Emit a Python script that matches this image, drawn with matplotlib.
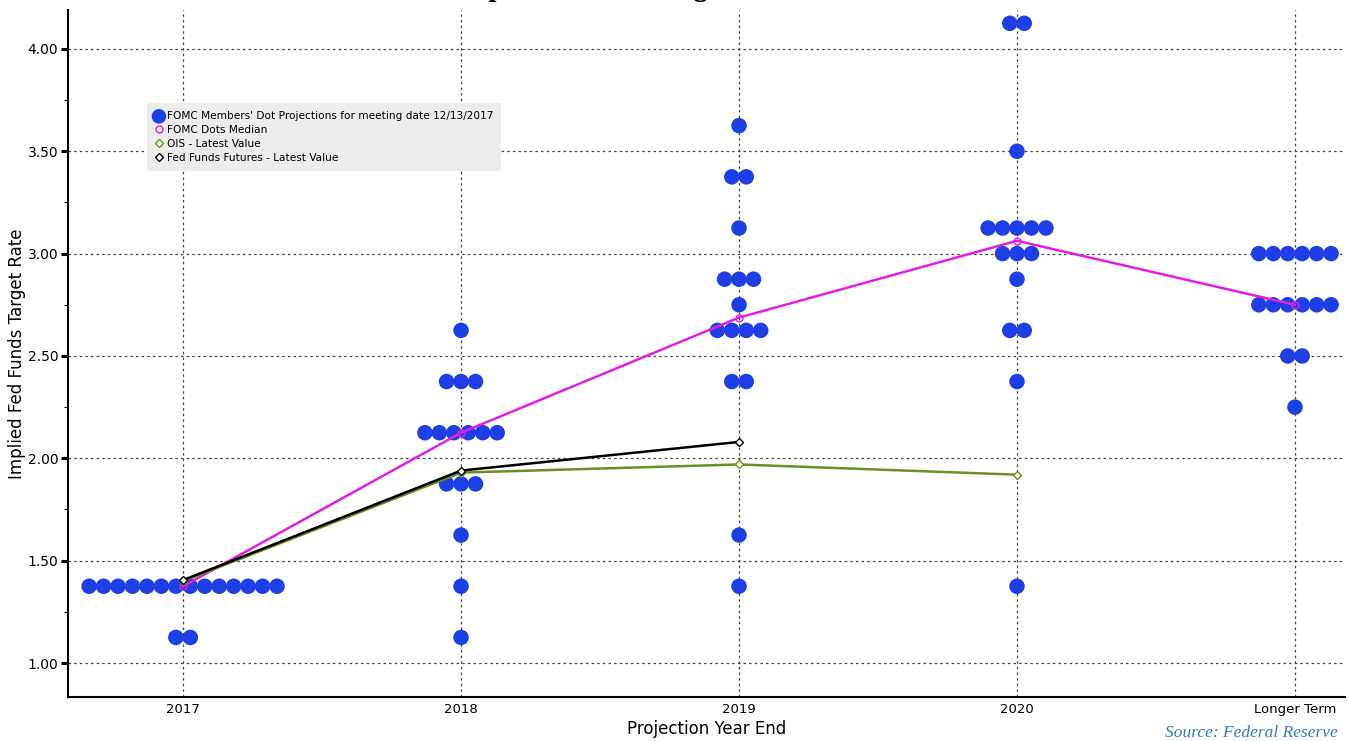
import numpy as np
import matplotlib
matplotlib.use("Agg")
import matplotlib.pyplot as plt
from matplotlib.ticker import MultipleLocator

# data
categories = ["2017", "2018", "2019", "2020", "Longer Term"]

# FOMC dot projections: (rate, number of dots) per category
dots_2017 = [(1.375, 14), (1.125, 2)]
dots_2018 = [(2.625, 1), (2.375, 3), (2.125, 6), (1.875, 3), (1.625, 1), (1.375, 1), (1.125, 1)]
dots_2019 = [(3.625, 1), (3.375, 2), (3.125, 1), (2.875, 3), (2.75, 1), (2.625, 4),
             (2.375, 2), (1.625, 1), (1.375, 1)]
dots_2020 = [(4.125, 2), (3.5, 1), (3.125, 5), (3.0, 3), (2.875, 1), (2.625, 2),
             (2.375, 1), (1.375, 1)]
dots_longer = [(3.0, 6), (2.75, 6), (2.5, 2), (2.25, 1)]
all_dots = [dots_2017, dots_2018, dots_2019, dots_2020, dots_longer]

median_vals = [1.375, 2.125, 2.6875, 3.0625, 2.75]
ois_vals = [1.40, 1.93, 1.97, 1.92]
ff_futures_vals = [1.405, 1.94, 2.08]

title = "FOMC Dot Plot: Implied Rate Hiking Path"
legend_labels = ["FOMC Members' Dot Projections for meeting date 12/13/2017",
                 "FOMC Dots Median",
                 "OIS - Latest Value",
                 "Fed Funds Futures - Latest Value"]

dot_color = "#1f3fe6"
median_color = "#e020e0"
ois_color = "#6b8e23"
dot_step = 0.052

fig = plt.figure(figsize=(13.48, 7.41), dpi=100)
ax = fig.add_axes([68 / 1348, 1 - 697 / 741, 1277 / 1348, 687 / 741])

xpos = np.arange(len(categories))

# dots
first = True
for i, rows in enumerate(all_dots):
    for rate, n in rows:
        offs = (np.arange(n) - (n - 1) / 2) * dot_step
        ax.scatter(xpos[i] + offs, [rate] * n, s=125, color=dot_color, edgecolors="none",
                   zorder=3, label=legend_labels[0] if first else None)
        first = False

ax.plot(xpos, median_vals, color=median_color, lw=1.8, marker="o", ms=5,
        mfc="none", mec=median_color, zorder=4, label=legend_labels[1])
ax.plot(xpos[:len(ois_vals)], ois_vals, color=ois_color, lw=1.8, marker="D", ms=4,
        mfc="white", mec=ois_color, zorder=5, label=legend_labels[2])
ax.plot(xpos[:len(ff_futures_vals)], ff_futures_vals, color="black", lw=1.8, marker="D",
        ms=4, mfc="white", mec="black", zorder=6, label=legend_labels[3])

ax.set_xlim(-0.414, 4.18)
ax.set_ylim(0.834, 4.19)
ax.set_xticks(xpos)
ax.set_xticklabels(categories, fontsize=9.5)
ax.yaxis.set_major_locator(MultipleLocator(0.5))
ax.yaxis.set_minor_locator(MultipleLocator(0.25))
ax.set_yticklabels([f"{v:.2f}" for v in ax.get_yticks()], fontsize=10)
ax.tick_params(axis="y", which="major", direction="out", length=5, width=2.2, pad=2)
ax.tick_params(axis="y", which="minor", direction="out", length=3, width=0.8)
ax.tick_params(axis="x", length=0, pad=4)

ax.grid(True, which="major", color="#444444", linestyle=(0, (2, 2.5)), linewidth=0.9)
for side in ["top", "right"]:
    ax.spines[side].set_visible(False)
for side in ["left", "bottom"]:
    ax.spines[side].set_linewidth(1.5)

ax.set_ylabel("Implied Fed Funds Target Rate", fontsize=12)
ax.yaxis.set_label_coords(-0.033, 0.5)
ax.set_xlabel("Projection Year End", fontsize=12, labelpad=3)

leg = ax.legend(loc="upper left", bbox_to_anchor=(0.058, 0.872), fontsize=7.6,
                frameon=True, fancybox=False, handlelength=0.7, handletextpad=0.4,
                labelspacing=0.38, borderpad=0.75, markerscale=1.0)
leg.get_frame().set_facecolor("#ececec")
leg.get_frame().set_edgecolor("none")
leg.get_frame().set_alpha(1)
for h in leg.legend_handles[1:]:
    h.set_linestyle("none")
leg.legend_handles[0].set_sizes([110])

fig.text(0.375, 1.006, title, ha="center", va="baseline", fontsize=21,
         fontweight="bold", family="Liberation Serif")
fig.text(1338 / 1348, 1 - 737 / 741, "Source: Federal Reserve", ha="right", va="baseline",
         fontsize=12.5, style="italic", family="Liberation Serif", color="#2e7bc4")

fig.savefig("out.png", dpi=100)
